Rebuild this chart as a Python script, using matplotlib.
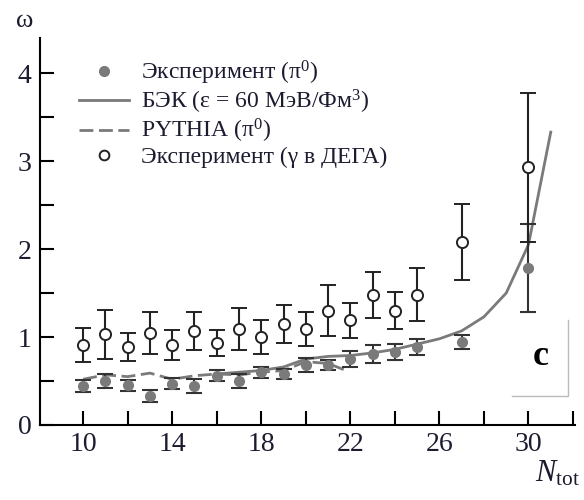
import matplotlib.pyplot as plt
from matplotlib.lines import Line2D
from matplotlib.ticker import MultipleLocator

plt.rcParams['font.family'] = ['Liberation Serif', 'DejaVu Serif']
plt.rcParams['mathtext.fontset'] = 'custom'
plt.rcParams['mathtext.rm'] = 'Liberation Serif'
plt.rcParams['mathtext.it'] = 'Liberation Serif:italic'

# experiment, pi0 (filled)
n_pi = [10, 11, 12, 13, 14, 15, 16, 17, 18, 19, 20, 21, 22, 23, 24, 25, 27, 30]
w_pi = [0.44, 0.50, 0.45, 0.33, 0.47, 0.44, 0.56, 0.50, 0.60, 0.58, 0.68, 0.68,
        0.75, 0.81, 0.83, 0.89, 0.94, 1.78]
e_pi = [0.07, 0.08, 0.06, 0.07, 0.06, 0.08, 0.06, 0.08, 0.06, 0.06, 0.08, 0.06,
        0.09, 0.10, 0.09, 0.09, 0.08, 0.50]

# experiment, gamma in DEGA (open)
n_g = [10, 11, 12, 13, 14, 15, 16, 17, 18, 19, 20, 21, 22, 23, 24, 25, 27, 30]
w_g = [0.91, 1.03, 0.89, 1.05, 0.91, 1.07, 0.93, 1.09, 1.00, 1.15, 1.09, 1.30,
       1.19, 1.48, 1.30, 1.48, 2.08, 2.93]
e_g = [0.19, 0.28, 0.16, 0.24, 0.17, 0.22, 0.15, 0.24, 0.19, 0.22, 0.19, 0.29,
       0.20, 0.26, 0.21, 0.30, 0.43, 0.85]

# BEC curve
n_bec = [16, 17, 18, 19, 20, 21, 22, 23, 24, 25, 26, 27, 28, 29, 30, 31]
w_bec = [0.58, 0.60, 0.62, 0.66, 0.75, 0.78, 0.79, 0.82, 0.86, 0.92, 0.98, 1.07,
         1.23, 1.50, 2.05, 3.33]

# PYTHIA curve
n_py = [10, 11, 12, 13, 14, 15, 16, 17, 18, 19, 20, 21, 21.7]
w_py = [0.52, 0.57, 0.55, 0.59, 0.52, 0.56, 0.58, 0.57, 0.60, 0.62, 0.72, 0.70, 0.63]

labels = ['Эксперимент (π$^0$)', 'БЭК (ε = 60 МэВ/Фм$^3$)',
          'PYTHIA (π$^0$)', 'Эксперимент (γ в ДЕГА)']

fig = plt.figure(figsize=(5.84, 5.0), dpi=100)
ax = fig.add_axes([0.068, 0.15, 0.917, 0.774])

ink = '#1c1c30'
gray = '#7a7a7a'

ax.plot(n_py, w_py, color=gray, lw=2, dashes=(5, 2), zorder=2)
ax.plot(n_bec, w_bec, color=gray, lw=2, zorder=2)
ax.errorbar(n_pi, w_pi, yerr=e_pi, fmt='o', color=gray, ms=7,
            ecolor='#333333', elinewidth=1.5, capsize=6, capthick=1.5, zorder=3)
ax.errorbar(n_g, w_g, yerr=e_g, fmt='o', mfc='white', mec='#222222', mew=1.4,
            ms=8, ecolor='#222222', elinewidth=1.5, capsize=6, capthick=1.5, zorder=4)

handles = [
    Line2D([], [], ls='none', marker='o', color=gray, ms=7),
    Line2D([], [], color=gray, lw=2),
    Line2D([], [], color=gray, lw=2, dashes=(5, 2)),
    Line2D([], [], ls='none', marker='o', mfc='white', mec='#222222', mew=1.4, ms=7),
]
ax.legend(handles, labels, loc='upper left', bbox_to_anchor=(0.043, 0.99),
          frameon=False, fontsize=17, handlelength=2.1, labelspacing=0.05,
          handletextpad=0.5, labelcolor=ink, borderpad=0.2)

ax.set_xlim(8.05, 32.1)
ax.set_ylim(0, 4.4)
ax.xaxis.set_minor_locator(MultipleLocator(2))
ax.set_xticks([10, 14, 18, 22, 26, 30])
ax.yaxis.set_major_locator(MultipleLocator(1))
ax.yaxis.set_minor_locator(MultipleLocator(0.5))
ax.tick_params(which='both', direction='in', width=1.5, length=10,
               labelsize=20, labelcolor=ink)
ax.tick_params(axis='x', pad=5)
ax.tick_params(axis='y', pad=6)
for s in ['top', 'right']:
    ax.spines[s].set_visible(False)
for s in ['left', 'bottom']:
    ax.spines[s].set_linewidth(1.5)

fig.text(0.043, 0.958, 'ω', fontsize=19, color=ink, ha='center', va='center')
fig.text(0.955, 0.052, '$N_{\\mathrm{tot}}$', fontsize=22, color=ink,
         ha='center', va='center')

# panel tag
ax.plot([0.987, 0.987, 0.882], [0.271, 0.075, 0.075], transform=ax.transAxes,
        color='#bbbbbb', lw=1, clip_on=False)
ax.text(0.935, 0.176, 'c', transform=ax.transAxes, fontsize=26,
        fontweight='bold', ha='center', va='center', color='black')

fig.savefig('out.png', dpi=100)
